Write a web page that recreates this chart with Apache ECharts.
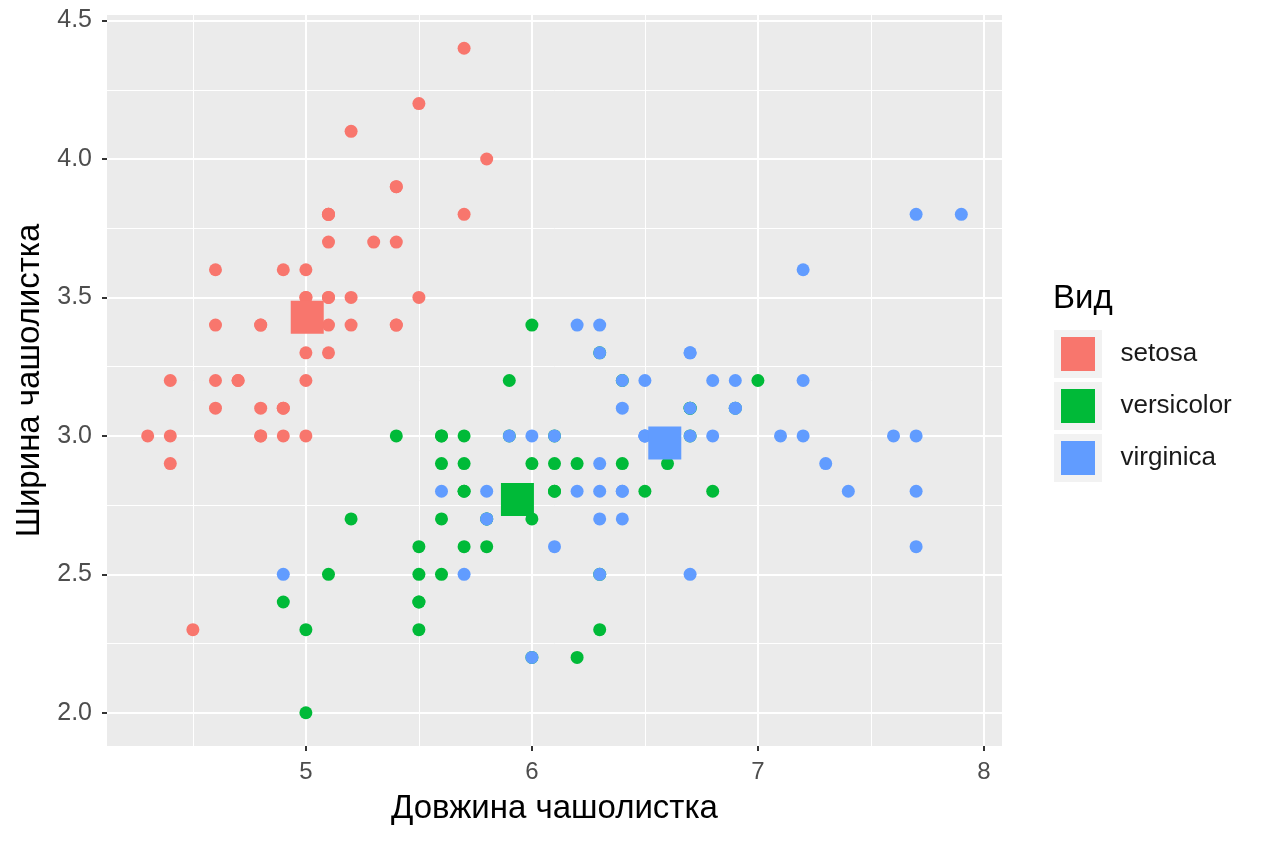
<!DOCTYPE html>
<html>
<head>
<meta charset="utf-8">
<script src="https://cdn.jsdelivr.net/npm/echarts@6/dist/echarts.min.js"></script>
<style>
  html, body { margin: 0; padding: 0; background: #fff; }
  #main { width: 1264px; height: 843px; }
</style>
</head>
<body>
<div id="main"></div>
<script>
// iris: sepal length / sepal width per species
const setosa = [
  [5.1,3.5],[4.9,3.0],[4.7,3.2],[4.6,3.1],[5.0,3.6],[5.4,3.9],[4.6,3.4],[5.0,3.4],[4.4,2.9],[4.9,3.1],
  [5.4,3.7],[4.8,3.4],[4.8,3.0],[4.3,3.0],[5.8,4.0],[5.7,4.4],[5.4,3.9],[5.1,3.5],[5.7,3.8],[5.1,3.8],
  [5.4,3.4],[5.1,3.7],[4.6,3.6],[5.1,3.3],[4.8,3.4],[5.0,3.0],[5.0,3.4],[5.2,3.5],[5.2,3.4],[4.7,3.2],
  [4.8,3.1],[5.4,3.4],[5.2,4.1],[5.5,4.2],[4.9,3.1],[5.0,3.2],[5.5,3.5],[4.9,3.6],[4.4,3.0],[5.1,3.4],
  [5.0,3.5],[4.5,2.3],[4.4,3.2],[5.0,3.5],[5.1,3.8],[4.8,3.0],[5.1,3.8],[4.6,3.2],[5.3,3.7],[5.0,3.3]
];
const versicolor = [
  [7.0,3.2],[6.4,3.2],[6.9,3.1],[5.5,2.3],[6.5,2.8],[5.7,2.8],[6.3,3.3],[4.9,2.4],[6.6,2.9],[5.2,2.7],
  [5.0,2.0],[5.9,3.0],[6.0,2.2],[6.1,2.9],[5.6,2.9],[6.7,3.1],[5.6,3.0],[5.8,2.7],[6.2,2.2],[5.6,2.5],
  [5.9,3.2],[6.1,2.8],[6.3,2.5],[6.1,2.8],[6.4,2.9],[6.6,3.0],[6.8,2.8],[6.7,3.0],[6.0,2.9],[5.7,2.6],
  [5.5,2.4],[5.5,2.4],[5.8,2.7],[6.0,2.7],[5.4,3.0],[6.0,3.4],[6.7,3.1],[6.3,2.3],[5.6,3.0],[5.5,2.5],
  [5.5,2.6],[6.1,3.0],[5.8,2.6],[5.0,2.3],[5.6,2.7],[5.7,3.0],[5.7,2.9],[6.2,2.9],[5.1,2.5],[5.7,2.8]
];
const virginica = [
  [6.3,3.3],[5.8,2.7],[7.1,3.0],[6.3,2.9],[6.5,3.0],[7.6,3.0],[4.9,2.5],[7.3,2.9],[6.7,2.5],[7.2,3.6],
  [6.5,3.2],[6.4,2.7],[6.8,3.0],[5.7,2.5],[5.8,2.8],[6.4,3.2],[6.5,3.0],[7.7,3.8],[7.7,2.6],[6.0,2.2],
  [6.9,3.2],[5.6,2.8],[7.7,2.8],[6.3,2.7],[6.7,3.3],[7.2,3.2],[6.2,2.8],[6.1,3.0],[6.4,2.8],[7.2,3.0],
  [7.4,2.8],[7.9,3.8],[6.4,2.8],[6.3,2.8],[6.1,2.6],[7.7,3.0],[6.3,3.4],[6.4,3.1],[6.0,3.0],[6.9,3.1],
  [6.7,3.1],[6.9,3.1],[5.8,2.7],[6.8,3.2],[6.7,3.3],[6.7,3.0],[6.3,2.5],[6.5,3.0],[6.2,3.4],[5.9,3.0]
];
// species means (centroids)
const centers = {
  setosa: [5.006, 3.428],
  versicolor: [5.936, 2.770],
  virginica: [6.588, 2.974]
};
const species = ['setosa', 'versicolor', 'virginica'];
const colors = ['#F8766D', '#00BA38', '#619CFF'];

const xTicks = [5, 6, 7, 8];
const xMinor = [4.5, 5.5, 6.5, 7.5];
const yTicks = [2.0, 2.5, 3.0, 3.5, 4.0, 4.5];
const yMinor = [2.25, 2.75, 3.25, 3.75, 4.25];

const font = '"Liberation Sans", Arial, sans-serif';
const chart = echarts.init(document.getElementById('main'));

const gridLine = (axis, vals, w) => vals.map(v => ({ [axis]: v, lineStyle: { color: '#fff', width: w, type: 'solid' } }));

// panel grid lines (drawn under the points)
const series = [{
  type: 'scatter',
  data: [],
  silent: true,
  z: 1,
  markLine: {
    silent: true,
    z: 1,
    symbol: 'none',
    animation: false,
    label: { show: false },
    data: [].concat(
      gridLine('xAxis', xMinor, 1), gridLine('yAxis', yMinor, 1),
      gridLine('xAxis', xTicks, 2), gridLine('yAxis', yTicks, 2)
    )
  }
}];
const pts = { setosa, versicolor, virginica };
species.forEach((s, i) => {
  series.push({
    name: s, type: 'scatter', data: pts[s], symbolSize: 13, z: 6,
    itemStyle: { color: colors[i], opacity: 1 }
  });
  series.push({
    name: s, type: 'scatter', data: [centers[s]], symbol: 'rect', symbolSize: 33, z: 7,
    itemStyle: { color: colors[i], opacity: 1 }
  });
});

chart.setOption({
  animation: false,
  textStyle: { fontFamily: font },
  grid: {
    left: 107, right: 262, top: 15, bottom: 97,
    outerBoundsMode: 'none',
    show: true, backgroundColor: '#EBEBEB', borderWidth: 0
  },
  legend: {
    data: species,
    orient: 'vertical',
    left: 1054, top: 330, padding: 0,
    icon: 'rect',
    itemWidth: 41, itemHeight: 41, itemGap: 4,
    itemStyle: { borderColor: '#F2F2F2', borderWidth: 7 },
    textStyle: { fontSize: 26, color: '#1a1a1a', padding: [0, 0, 0, 17], fontFamily: font }
  },
  graphic: [{
    type: 'text', left: 1053, top: 282,
    style: { text: 'Вид', fontSize: 33, fill: '#000', fontFamily: font }
  }],
  xAxis: {
    type: 'value', min: 4.12, max: 8.08,
    name: 'Довжина чашолистка', nameLocation: 'middle', nameGap: 46,
    nameTextStyle: { fontSize: 33, color: '#000', fontFamily: font },
    axisLine: { show: false },
    axisTick: { show: true, customValues: xTicks, length: 5, lineStyle: { color: '#333', width: 2 } },
    axisLabel: { customValues: xTicks, fontSize: 24, color: '#4D4D4D', margin: 14 },
    splitLine: { show: false }
  },
  yAxis: {
    type: 'value', min: 1.88, max: 4.52,
    name: 'Ширина чашолистка', nameLocation: 'middle', nameGap: 60,
    nameTextStyle: { fontSize: 33, color: '#000', fontFamily: font },
    axisLine: { show: false },
    axisTick: { show: true, customValues: yTicks, length: 5, lineStyle: { color: '#333', width: 2 } },
    axisLabel: { customValues: yTicks, fontSize: 25, color: '#4D4D4D', margin: 15,
      formatter: v => v.toFixed(1) },
    splitLine: { show: false }
  },
  series: series
});
</script>
</body>
</html>
